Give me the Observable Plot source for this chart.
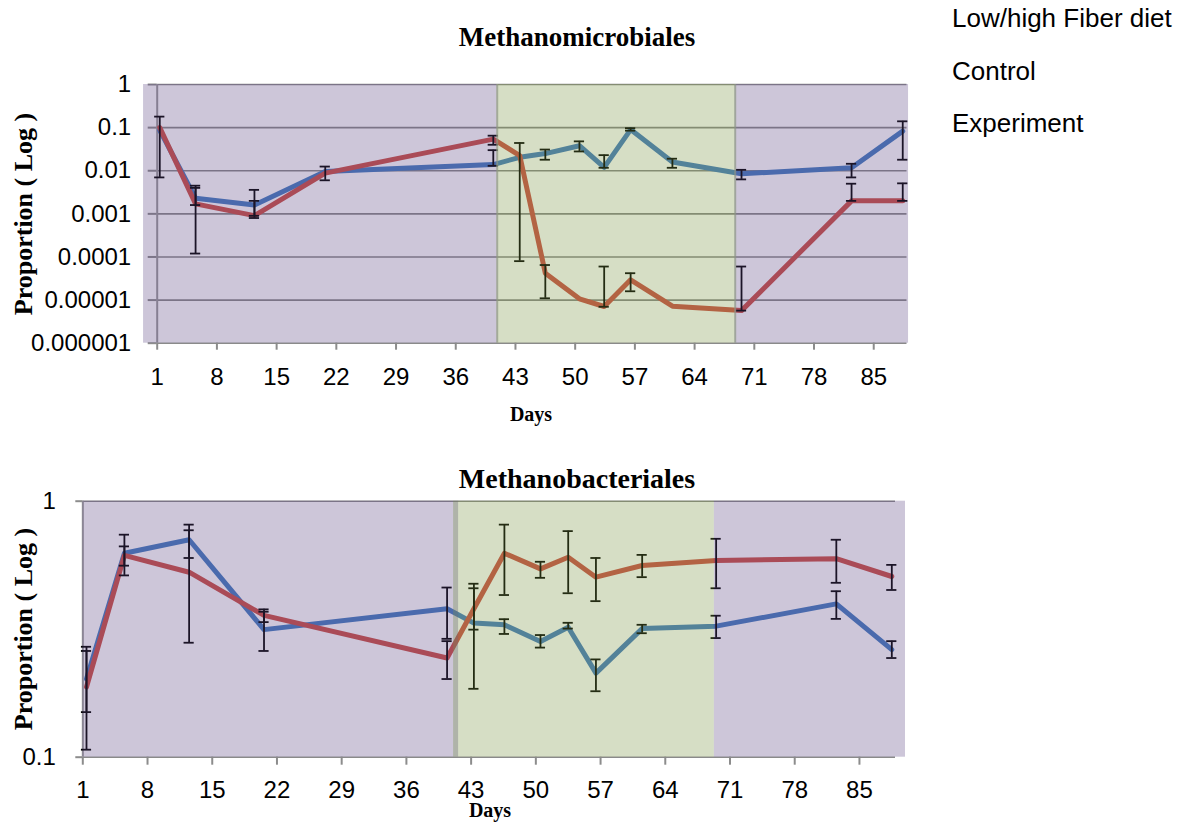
<!DOCTYPE html>
<html>
<head>
<meta charset="utf-8">
<script src="https://cdn.jsdelivr.net/npm/d3@7"></script>
<script src="https://cdn.jsdelivr.net/npm/@observablehq/plot@0.6"></script>
<style>
  body { margin: 0; background: #fff; }
  #root { position: relative; width: 1183px; height: 824px; overflow: hidden; }
  .abs { position: absolute; white-space: nowrap; line-height: 1; }
  .serif { font-family: "Liberation Serif", "Times New Roman", serif; font-weight: bold; color: #000; }
  .sans { font-family: "Liberation Sans", Arial, sans-serif; color: #000; }
  .plotwrap { position: absolute; left: 0; }
  .plotwrap svg [aria-label*="axis"] line,
  .plotwrap svg [aria-label*="axis"] path { stroke: #8c8c8c; stroke-width: 2; stroke-opacity: 1; }
</style>
</head>
<body>
<div id="root">
  <div class="abs sans" style="left:952px;top:5px;font-size:26px;">Low/high Fiber diet</div>
  <div class="abs sans" style="left:952px;top:58px;font-size:26px;">Control</div>
  <div class="abs sans" style="left:952px;top:110px;font-size:26px;">Experiment</div>

  <div class="abs serif" style="left:577px;top:24px;font-size:27px;transform:translateX(-50%);">Methanomicrobiales</div>
  <div class="abs serif" style="left:577px;top:465px;font-size:28px;transform:translateX(-50%);">Methanobacteriales</div>

  <div class="abs serif" style="left:24px;top:214px;font-size:26px;transform:translate(-50%,-50%) rotate(-90deg);">Proportion ( Log )</div>
  <div class="abs serif" style="left:24px;top:629px;font-size:26px;transform:translate(-50%,-50%) rotate(-90deg);">Proportion ( Log )</div>

  <div class="abs serif" style="left:531px;top:404px;font-size:20px;transform:translateX(-50%);">Days</div>
  <div class="abs serif" style="left:490px;top:802px;font-size:20px;line-height:0.8;transform:translateX(-50%);">Days</div>

  <div id="top" class="plotwrap" style="top:0px;"></div>
  <div id="bottom" class="plotwrap" style="top:430px;"></div>
</div>
<script>
// ---------- shared tick labels ----------
const xTicks = [1, 8, 15, 22, 29, 36, 43, 50, 57, 64, 71, 78, 85];
const xTickLabels = ["1", "8", "15", "22", "29", "36", "43", "50", "57", "64", "71", "78", "85"];

// ---------- Methanomicrobiales ----------
const topDays = [1.3, 5.5, 12.4, 20.7, 40.4, 43.5, 46.5, 50.5, 53.4, 56.5, 61.4, 69.5, 82.4, 88.4];
const topControl = [0.086, 0.0023, 0.0016, 0.0096, 0.0139, 0.0205, 0.025, 0.038, 0.012, 0.09, 0.016, 0.0085, 0.0117, 0.083];
const topExperiment = [0.10, 0.0017, 0.00091, 0.0088, 0.054, 0.0225, 0.000042, 0.0000107, 0.0000071, 0.0000295, 0.0000072, 0.0000057, 0.002, 0.002];
const topControlHi = [null, 0.004, 0.0036, 0.0125, 0.03, null, 0.031, 0.048, 0.023, 0.097, 0.019, 0.0105, 0.0145, 0.14];
const topControlLo = [null, 0.0016, 0.0009, 0.006, 0.013, null, 0.018, 0.028, 0.0117, 0.085, 0.0117, 0.0063, 0.007, 0.018];
const topExpHi = [0.18, 0.0045, 0.002, null, 0.065, 0.044, 0.000065, null, 0.00006, 0.000042, null, 0.00006, 0.005, 0.0051];
const topExpLo = [0.007, 0.00012, 0.0008, null, 0.04, 0.00008, 0.000011, null, 0.000007, 0.000016, null, 0.0000057, 0.002, 0.002];
const topYTicks = [1, 0.1, 0.01, 0.001, 0.0001, 0.00001, 0.000001];
const topYLabels = ["1", "0.1", "0.01", "0.001", "0.0001", "0.00001", "0.000001"];
const topPhaseStart = [-0.6, 40.86, 68.76];
const topPhaseEnd = [40.86, 68.76, 89.08];
const topPhaseDiet = ["low", "high", "low"];

// ---------- Methanobacteriales ----------
const botDays = [1.4, 5.5, 12.5, 20.6, 40.4, 43.3, 46.6, 50.5, 53.5, 56.5, 61.5, 69.5, 82.5, 88.5];
const botControl = [0.202, 0.626, 0.707, 0.315, 0.38, 0.334, 0.329, 0.283, 0.322, 0.213, 0.318, 0.325, 0.397, 0.263];
const botExperiment = [0.188, 0.614, 0.528, 0.358, 0.244, 0.38, 0.626, 0.544, 0.604, 0.505, 0.561, 0.587, 0.596, 0.508];
const botControlHi = [0.26, 0.74, 0.81, 0.37, 0.46, 0.457, 0.346, 0.3, 0.335, 0.241, 0.329, 0.357, 0.445, 0.284];
const botControlLo = [0.15, 0.56, 0.6, 0.26, 0.29, 0.315, 0.303, 0.268, 0.318, 0.181, 0.305, 0.292, 0.347, 0.244];
const botExpHi = [0.27, 0.666, 0.77, 0.378, 0.284, 0.476, 0.81, 0.58, 0.764, 0.6, 0.617, 0.713, 0.707, 0.564];
const botExpLo = [0.107, 0.513, 0.28, 0.337, 0.202, 0.185, 0.43, 0.502, 0.437, 0.407, 0.505, 0.457, 0.48, 0.45];
const botYTicks = [1, 0.1];
const botYLabels = ["1", "0.1"];
const botPhaseStart = [1.0, 41.65, 69.3];
const botPhaseEnd = [41.1, 69.3, 89.98];
const botPhaseDiet = ["low", "high", "low"];
const botEdgeStart = [41.1];
const botEdgeEnd = [41.65];

// ---------- colours ----------
const controlColor = "#447cc0";
const experimentColor = "#cd4f46";
const lowColor = "#584180";
const highColor = "#76913e";

function rows(days, vals) { return days.map((d, i) => ({day: d, value: vals[i]})); }
function bars(days, hi, lo) {
  return days.map((d, i) => ({day: d, hi: hi[i], lo: lo[i]})).filter(r => r.hi != null && r.lo != null);
}
function phases(s, e, t) { return s.map((v, i) => ({start: v, end: e[i], diet: t[i]})); }
function fmt(ticks, labels) { const m = new Map(ticks.map((t, i) => [t, labels[i]])); return d => m.get(d) ?? ""; }

function chart(cfg) {
  const ph = phases(cfg.ps, cfg.pe, cfg.pd);
  const errs = bars(cfg.days, cfg.cHi, cfg.cLo).concat(bars(cfg.days, cfg.eHi, cfg.eLo));
  const [ylo, yhi] = cfg.yDomain;
  const marks = [
    Plot.ruleY(cfg.yTicks, {stroke: cfg.gridColor, strokeWidth: 1.6}),
    Plot.ruleX([1], {y1: () => ylo, y2: () => yhi, stroke: "#9a9a9a", strokeWidth: 2}),
    Plot.line(rows(cfg.days, cfg.control), {x: "day", y: "value", stroke: controlColor, strokeWidth: 5, strokeLinejoin: "round", strokeLinecap: "round"}),
    Plot.line(rows(cfg.days, cfg.experiment), {x: "day", y: "value", stroke: experimentColor, strokeWidth: 5, strokeLinejoin: "round", strokeLinecap: "round"}),
    Plot.ruleX(errs, {x: "day", y1: "lo", y2: "hi", stroke: "#000", strokeWidth: 1.8}),
    Plot.ruleY(errs, {y: "hi", x1: d => d.day - cfg.cap, x2: d => d.day + cfg.cap, stroke: "#000", strokeWidth: 1.8}),
    Plot.ruleY(errs, {y: "lo", x1: d => d.day - cfg.cap, x2: d => d.day + cfg.cap, stroke: "#000", strokeWidth: 1.8}),
    Plot.rect(ph.filter(p => p.diet === "low"), {x1: "start", x2: "end", y1: () => ylo, y2: () => yhi, fill: lowColor, fillOpacity: 0.3}),
    Plot.rect(ph.filter(p => p.diet === "high"), {x1: "start", x2: "end", y1: () => ylo, y2: () => yhi, fill: highColor, fillOpacity: 0.3})
  ].concat(cfg.extra || []);
  return Plot.plot({
    width: 930,
    height: cfg.height,
    marginLeft: cfg.ml,
    marginRight: cfg.mr,
    marginTop: cfg.mt,
    marginBottom: cfg.mb,
    style: {fontFamily: '"Liberation Sans", Arial, sans-serif', fontSize: "24px", color: "#000", background: "transparent", overflow: "visible"},
    x: {type: "linear", domain: cfg.xDomain, ticks: xTicks, tickFormat: fmt(xTicks, xTickLabels), tickSize: cfg.xTickSize, tickPadding: cfg.xPad, label: null},
    y: {type: "log", domain: cfg.yDomain, ticks: cfg.yTicks, tickFormat: fmt(cfg.yTicks, cfg.yLabels), tickSize: cfg.yTickSize, tickPadding: cfg.yPad, label: null},
    marks
  });
}

const topChart = chart({
  height: 420, ml: 156.7, mr: 23.5, mt: 84, mb: 77.3,
  xDomain: [1, 88.9], yDomain: [0.000001, 1],
  xTickSize: 7, xPad: 18, yTickSize: 9, yPad: 17,
  yTicks: topYTicks, yLabels: topYLabels, gridColor: "#8a8a8a",
  days: topDays, control: topControl, experiment: topExperiment,
  cHi: topControlHi, cLo: topControlLo, eHi: topExpHi, eLo: topExpLo,
  ps: topPhaseStart, pe: topPhaseEnd, pd: topPhaseDiet, cap: 0.6,
  extra: [Plot.ruleX([topPhaseStart[1], topPhaseEnd[1]], {y1: () => 0.000001, y2: () => 1, stroke: "#8d9685", strokeWidth: 2, strokeOpacity: 0.7})]
});
document.getElementById("top").appendChild(topChart);

const botChart = chart({
  height: 394, ml: 82.3, mr: 35, mt: 70.7, mb: 67.3,
  xDomain: [1, 88.9], yDomain: [0.1, 1],
  xTickSize: 8, xPad: 16, yTickSize: 7, yPad: 20,
  yTicks: botYTicks, yLabels: botYLabels, gridColor: "#8a8a8a",
  days: botDays, control: botControl, experiment: botExperiment,
  cHi: botControlHi, cLo: botControlLo, eHi: botExpHi, eLo: botExpLo,
  ps: botPhaseStart, pe: botPhaseEnd, pd: botPhaseDiet, cap: 0.55,
  extra: [Plot.rect(botEdgeStart.map((s, i) => ({start: s, end: botEdgeEnd[i]})), {x1: "start", x2: "end", y1: () => 0.1, y2: () => 1, fill: "#6e7462", fillOpacity: 0.55})]
});
document.getElementById("bottom").appendChild(botChart);
</script>
</body>
</html>
